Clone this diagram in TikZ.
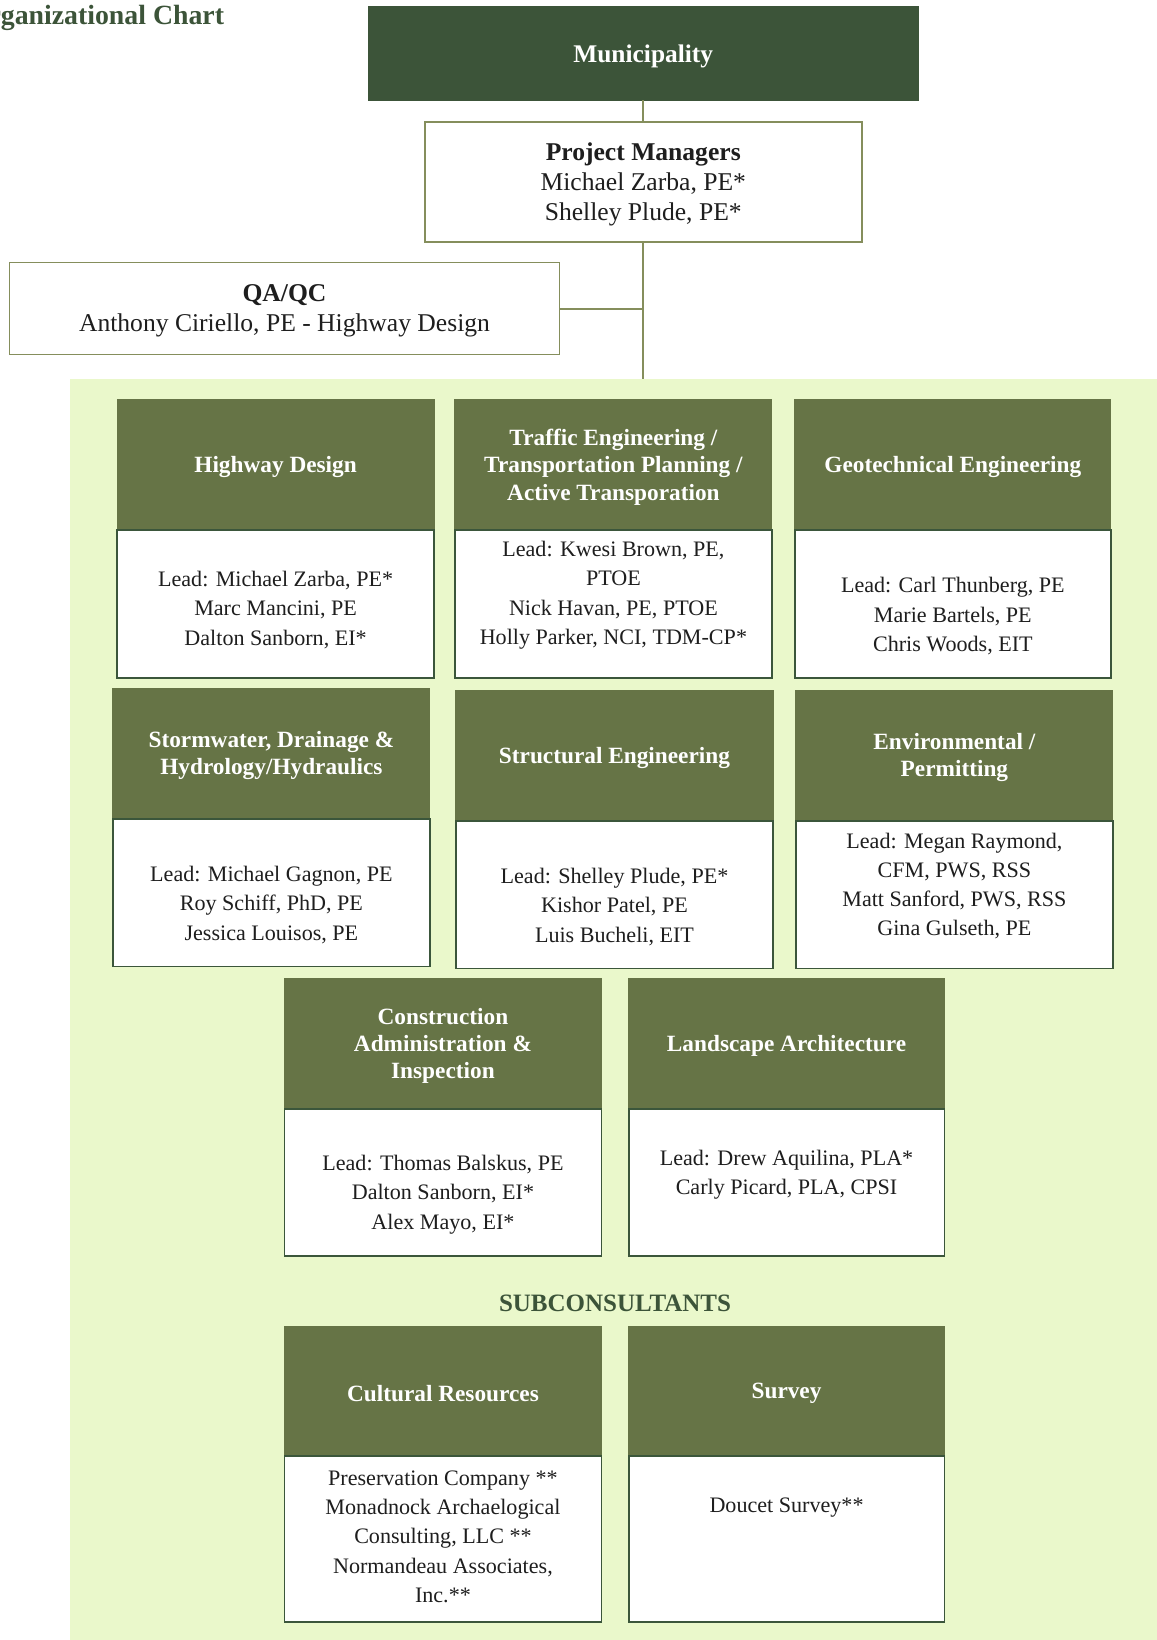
\documentclass[tikz,border=0pt]{standalone}
\usepackage{fontspec}
\setmainfont{Liberation Serif}
\definecolor{muni}{HTML}{3C5439}
\definecolor{hdr}{HTML}{667446}
\definecolor{bg}{HTML}{EAF8CB}
\definecolor{olive}{HTML}{858E5C}
\definecolor{bdr}{HTML}{3B563B}
\definecolor{txt}{HTML}{1E1E1E}
\newcommand\orgunit[9]{%
  \node[hdrbox, minimum width={(#3-#2)*0.52305pt}, minimum height={(#5-#4)*0.52305pt}] (#1h) at ({(#2+#3)/2},{(#4+#5)/2}) {};
  \node[hdrtxt] (#1l) at (#1h.center) {#7};
  \node[bodybox, minimum width={(#3-#2)*0.52305pt}, minimum height={(#6-#5)*0.52305pt}] (#1b) at ({(#2+#3)/2},{(#5+#6)/2}) {};
  \node[bodytxt] (#1t) at ({(#2+#3)/2},#9) {#8};
}
\begin{document}
\begin{tikzpicture}[x=0.52305pt,y=-0.52305pt,
  hdrbox/.style={fill=hdr, draw=hdr, line width=0.6pt, inner sep=0pt, outer sep=0pt},
  hdrtxt/.style={inner sep=0pt, text=white, yshift=-1.1pt,
    font=\fontsize{11.65}{13.6}\selectfont\bfseries, align=center},
  bodybox/.style={fill=white, draw=bdr, line width=0.9pt, inner sep=0pt, outer sep=0pt},
  bodytxt/.style={text=txt, inner sep=0pt, yshift=-1.1pt, font=\fontsize{11.05}{14.65}\selectfont, align=center},
  topbox/.style={fill=white, draw=olive, line width=0.9pt, inner sep=0pt, outer sep=0pt},
  toptxt/.style={inner sep=0pt, text=txt, yshift=-1.3pt, font=\fontsize{12.8}{14.9}\selectfont, align=center},
  conn/.style={draw=olive, line width=1pt}]
\useasboundingbox (0,0) rectangle (1106,1568);
\fill[white] (0,0) rectangle (1106,1568);
% background panel
\fill[bg] (67,362) rectangle (1106,1568);
% title
\node[anchor=base west, inner sep=0pt, text=muni, font=\fontsize{13.9}{16}\selectfont\bfseries] (title) at (-32,23) {Organizational Chart};
% top hierarchy
\node[fill=muni, draw=muni, inner sep=0pt, outer sep=0pt,
  minimum width={526*0.52305pt}, minimum height={90*0.52305pt}] (muni) at (615,51) {};
\node[inner sep=0pt, text=white, yshift=-1.3pt, font=\fontsize{12.7}{15}\selectfont\bfseries] (munil) at (muni.center) {Municipality};
\node[topbox, minimum width={418*0.52305pt}, minimum height={114*0.52305pt}] (pm) at (615,174) {};
\node[toptxt] (pml) at (pm.center) {\textbf{Project Managers}\\Michael Zarba, PE*\\Shelley Plude, PE*};
\node[topbox, minimum width={526*0.52305pt}, minimum height={88*0.52305pt}] (qa) at (272,295) {};
\node[toptxt] (qal) at (qa.center) {\textbf{QA/QC}\\Anthony Ciriello, PE - Highway Design};
\coordinate (bgtop) at (615,362);
\coordinate (jqa) at (pm.south |- qa.east);
\draw[conn] (muni.south) -- (pm.north);
\draw[conn] (pm.south) -- (bgtop);
\draw[conn] (qa.east) -- (jqa);
% units
\orgunit{hw}{112}{415}{382}{507}{648}{Highway Design}{Lead: Michael Zarba, PE*\\Marc Mancini, PE\\Dalton Sanborn, EI*}{581}
\orgunit{tr}{435}{738}{382}{507}{648}{Traffic Engineering /\\Transportation Planning /\\Active Transporation}{Lead: Kwesi Brown, PE,\\PTOE\\Nick Havan, PE, PTOE\\Holly Parker, NCI, TDM-CP*}{567}
\orgunit{ge}{760}{1062}{382}{507}{648}{Geotechnical Engineering}{Lead: Carl Thunberg, PE\\Marie Bartels, PE\\Chris Woods, EIT}{587}
\orgunit{sw}{108}{411}{658}{783}{924}{Stormwater, Drainage \&\\Hydrology/Hydraulics}{Lead: Michael Gagnon, PE\\Roy Schiff, PhD, PE\\Jessica Louisos, PE}{863}
\orgunit{st}{436}{739}{660}{785}{926}{Structural Engineering}{Lead: Shelley Plude, PE*\\Kishor Patel, PE\\Luis Bucheli, EIT}{865}
\orgunit{en}{761}{1064}{660}{785}{926}{Environmental /\\Permitting}{Lead: Megan Raymond,\\CFM, PWS, RSS\\Matt Sanford, PWS, RSS\\Gina Gulseth, PE}{845}
\orgunit{ca}{272}{575}{936}{1060}{1201}{Construction\\Administration \&\\Inspection}{Lead: Thomas Balskus, PE\\Dalton Sanborn, EI*\\Alex Mayo, EI*}{1140}
\orgunit{la}{601}{903}{936}{1060}{1201}{Landscape Architecture}{Lead: Drew Aquilina, PLA*\\Carly Picard, PLA, CPSI}{1121}
\node[text=muni, inner sep=0pt, yshift=-1.1pt, font=\fontsize{12.5}{15}\selectfont\bfseries] (sub) at (588,1244) {SUBCONSULTANTS};
\orgunit{cr}{272}{575}{1268}{1392}{1551}{Cultural Resources}{Preservation Company **\\Monadnock Archaelogical\\Consulting, LLC **\\Normandeau Associates,\\Inc.**}{1467}
\orgunit{su}{601}{903}{1268}{1392}{1551}{Survey}{Doucet Survey**}{1439}
\end{tikzpicture}
\end{document}
